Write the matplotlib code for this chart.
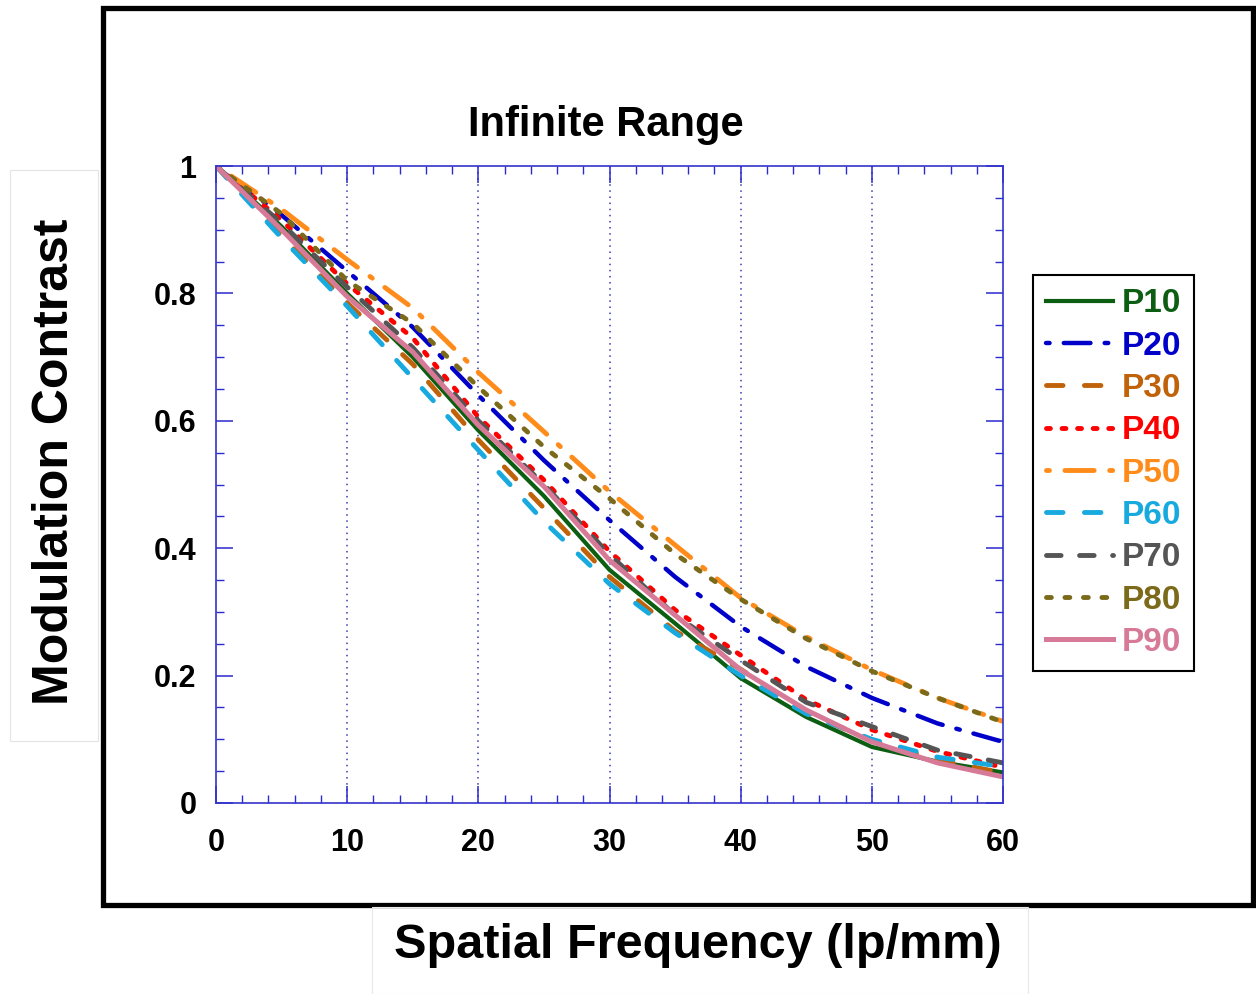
import matplotlib.pyplot as plt
from matplotlib.patches import Rectangle
from matplotlib.ticker import MultipleLocator

plt.rcParams['font.family'] = ['Liberation Sans', 'DejaVu Sans']
plt.rcParams['font.weight'] = 'bold'

freq = [0, 5, 10, 15, 20, 25, 30, 35, 40, 45, 50, 55, 60]

p10 = [1, 0.905, 0.800, 0.700, 0.585, 0.482, 0.366, 0.282, 0.196, 0.135, 0.088, 0.065, 0.048]
p20 = [1, 0.923, 0.835, 0.747, 0.640, 0.538, 0.444, 0.355, 0.277, 0.214, 0.165, 0.125, 0.096]
p30 = [1, 0.890, 0.785, 0.689, 0.570, 0.463, 0.355, 0.270, 0.210, 0.142, 0.098, 0.068, 0.047]
p40 = [1, 0.915, 0.815, 0.730, 0.606, 0.507, 0.395, 0.303, 0.232, 0.162, 0.115, 0.081, 0.056]
p50 = [1, 0.932, 0.853, 0.777, 0.676, 0.583, 0.489, 0.405, 0.322, 0.261, 0.209, 0.165, 0.128]
p60 = [1, 0.887, 0.780, 0.667, 0.554, 0.442, 0.344, 0.267, 0.200, 0.140, 0.100, 0.072, 0.057]
p70 = [1, 0.910, 0.810, 0.715, 0.600, 0.500, 0.390, 0.295, 0.224, 0.158, 0.120, 0.083, 0.063]
p80 = [1, 0.925, 0.820, 0.753, 0.653, 0.559, 0.478, 0.391, 0.320, 0.258, 0.207, 0.165, 0.127]
p90 = [1, 0.900, 0.795, 0.708, 0.593, 0.497, 0.381, 0.295, 0.209, 0.146, 0.096, 0.063, 0.041]

labels = ['P10', 'P20', 'P30', 'P40', 'P50', 'P60', 'P70', 'P80', 'P90']

fig = plt.figure(figsize=(12.56, 9.94), dpi=100)

# outer black frame
fig.patches.append(Rectangle((103/1256, 1 - 905/994), 1150/1256, 897/994,
                             transform=fig.transFigure, fill=False,
                             edgecolor='black', lw=3.8, zorder=0))
# faint boxes round the pasted axis titles
fig.patches.append(Rectangle((10/1256, 1 - 741/994), 88/1256, 571/994,
                             transform=fig.transFigure, fill=False,
                             edgecolor='#e4e4e4', lw=0.8))
fig.patches.append(Rectangle((372/1256, 0), 656/1256, 87/994,
                             transform=fig.transFigure, fill=False,
                             edgecolor='#e8e8e8', lw=0.8))

ax = fig.add_axes([216/1256, 191/994, 787/1256, 637/994])

rc = dict(dash_capstyle='round')
ax.plot(freq, p10, color='#0c5e12', lw=3.0, ls='-', label='P10')
ax.plot(freq, p20, color='#0000c8', lw=3.2, ls=(0, (0.8, 3.2, 6, 3.2)), label='P20', **rc)
ax.plot(freq, p30, color='#c0620a', lw=3.5, ls=(0, (3.4, 4.4)), label='P30', **rc)
ax.plot(freq, p40, color='#ff0000', lw=3.5, ls=(0, (0.8, 2.4)), label='P40', **rc)
ax.plot(freq, p50, color='#ff8c1a', lw=3.5, ls=(0, (0.6, 3.2, 6, 3.2)), label='P50', **rc)
ax.plot(freq, p60, color='#18aadf', lw=3.5, ls=(0, (3.4, 4.4)), label='P60', **rc)
ax.plot(freq, p70, color='#555555', lw=3.5, ls=(0, (3.0, 3.8)), label='P70', **rc)
ax.plot(freq, p80, color='#7a6a1a', lw=3.5, ls=(0, (1.0, 2.8)), label='P80', **rc)
ax.plot(freq, p90, color='#d77a98', lw=3.6, ls='-', label='P90')

ax.set_xlim(0, 60)
ax.set_ylim(0, 1)
ax.xaxis.set_major_locator(MultipleLocator(10))
ax.xaxis.set_minor_locator(MultipleLocator(2))
ax.yaxis.set_minor_locator(MultipleLocator(0.05))
ax.set_yticks([0, 0.2, 0.4, 0.6, 0.8, 1])
ax.set_yticklabels(['0', '0.2', '0.4', '0.6', '0.8', '1'])

for x in [10, 20, 30, 40, 50]:
    ax.axvline(x, color='#3a3aa8', lw=1.1, ls=(0, (1, 3)), zorder=0)

for s in ax.spines.values():
    s.set_color('#3333cc')
    s.set_linewidth(1.2)
ax.tick_params(which='both', direction='in', top=True, right=True,
               color='#2a2ad0', labelsize=22)
ax.tick_params(axis='y', pad=14)
ax.tick_params(axis='x', pad=18)
ax.tick_params(which='major', length=12, width=1.1)
ax.tick_params(which='minor', length=6, width=1.0)
for t in ax.get_xticklabels() + ax.get_yticklabels():
    t.set_fontweight('bold')

fig.text(606/1256, 1 - 125/994, 'Infinite Range', fontsize=30,
         fontweight='bold', ha='center', va='center')
fig.text(55/1256, 1 - 462/994, 'Modulation Contrast', fontsize=36,
         fontweight='bold', rotation=90, ha='center', va='center')
fig.text(698/1256, 1 - 945/994, 'Spatial Frequency (lp/mm)', fontsize=35,
         fontweight='bold', ha='center', va='center')

leg = ax.legend(loc='upper left', bbox_to_anchor=(1033/1256, 1 - 275/994),
                bbox_transform=fig.transFigure, borderaxespad=0,
                prop={'size': 24, 'weight': 'bold'}, labelcolor='linecolor',
                handlelength=2.0, handletextpad=0.25, labelspacing=0.34,
                borderpad=0.4, fancybox=False, framealpha=1)
leg.get_frame().set_edgecolor('black')
leg.get_frame().set_linewidth(1.5)

fig.savefig('out.png', dpi=100)
